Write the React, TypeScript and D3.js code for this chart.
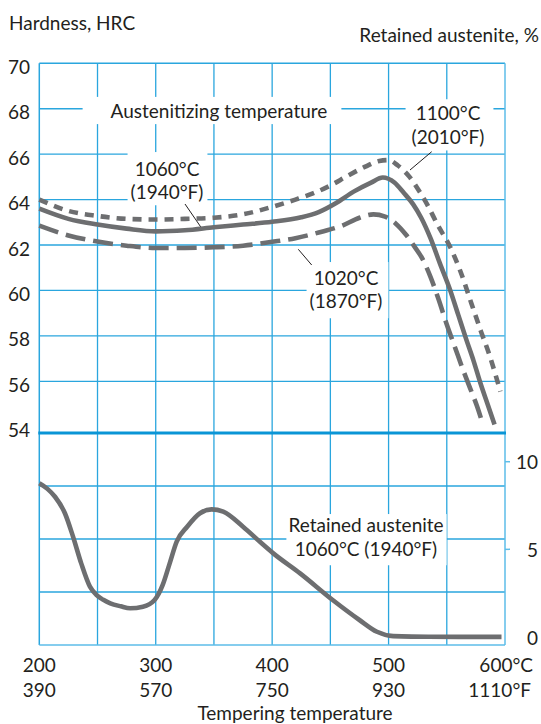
import { useEffect, useRef } from 'react';
import * as d3 from 'd3';

const W = 541;
const H = 724;

// tempering temperature axis
const tempTicks = [200, 300, 400, 500, 600];
const tempLabelsC = ['200', '300', '400', '500', '600°C'];
const tempLabelsF = ['390', '570', '750', '930', '1110°F'];
const tempGrid = [250, 300, 350, 400, 450, 500, 550];

const hardnessTicks = [54, 56, 58, 60, 62, 64, 66, 68, 70];
const hardnessGrid = [56, 58, 60, 62, 64, 66, 68];
const austeniteTicks = [0, 5, 10];
const austeniteTickMarks = [5, 10];
const lowerGridBands = [1, 2, 3];

// hardness curves (tempering °C, HRC)
const temps1100 = [200, 225, 250, 275, 300, 325, 350, 375, 400, 420, 435, 450, 465, 480, 492, 500, 508, 518, 526, 533, 542, 553, 562, 571, 579, 587, 596];
const hrc1100 = [64.0, 63.5, 63.28, 63.15, 63.12, 63.15, 63.2, 63.35, 63.68, 64.0, 64.27, 64.62, 65.05, 65.45, 65.7, 65.74, 65.5, 65.0, 64.4, 63.8, 62.9, 61.9, 60.8, 59.45, 58.25, 57.1, 55.55];

const temps1060 = [200, 225, 250, 275, 300, 325, 350, 375, 400, 425, 440, 455, 470, 485, 495, 505, 513, 521, 528, 536, 544, 553, 560, 567, 573, 579, 585, 591];
const hrc1060 = [63.6, 63.15, 62.9, 62.72, 62.6, 62.65, 62.78, 62.9, 63.02, 63.22, 63.45, 63.85, 64.35, 64.75, 64.97, 64.75, 64.3, 63.8, 63.2, 62.3, 61.2, 60.0, 58.9, 57.8, 56.9, 55.9, 55.0, 54.1];

const temps1020 = [200, 225, 250, 275, 300, 325, 350, 375, 400, 420, 440, 460, 475, 487, 497, 506, 515, 522, 529, 536, 543, 550, 557, 564, 570, 576, 581];
const hrc1020 = [62.85, 62.42, 62.15, 61.97, 61.87, 61.87, 61.9, 61.97, 62.14, 62.3, 62.55, 62.85, 63.2, 63.35, 63.25, 62.95, 62.45, 61.95, 61.4, 60.6, 59.6, 58.5, 57.5, 56.5, 55.7, 54.9, 54.1];

// retained austenite, 1060 °C
const tempsRA = [200, 207, 213.5, 222, 229, 236, 243.5, 249, 255, 261, 270, 278, 289, 299, 306, 312, 318, 327, 338, 348, 358, 375, 390, 401, 424, 452, 475, 490, 504, 520, 560, 597];
const pctRA = [8.77, 8.45, 8.0, 7.06, 5.72, 4.2, 2.87, 2.4, 2.12, 1.92, 1.75, 1.64, 1.73, 2.11, 2.97, 4.2, 5.44, 6.29, 7.06, 7.28, 7.15, 6.29, 5.4, 4.77, 3.63, 2.11, 0.97, 0.3, 0.05, 0.02, 0.01, 0.01];

const GRID = '#2aa6de';
const GRID_LIGHT = '#5dbde8';
const SEP = '#0a95d6';
const CURVE = '#6d6e70';
const INK = '#231f20';
const FONT = 'Lato, "Open Sans", sans-serif';
const FONT_SIZE = 19;

export default function App() {
  const svgRef = useRef<SVGSVGElement>(null);

  useEffect(() => {
    if (!svgRef.current) return;
    const svg = d3.select(svgRef.current);
    svg.selectAll('*').remove();

    const x = d3.scaleLinear().domain([200, 600]).range([39.3, 505]);
    const yH = d3.scaleLinear().domain([54, 70]).range([426.7, 63.3]);
    const yR = d3.scaleLinear().domain([0, 10]).range([637, 461.7]);
    const sepY = 433;
    const bottomY = 645;
    const yBand = d3.scaleLinear().domain([0, 4]).range([sepY, bottomY]);

    const g = svg.append('g');

    // grid
    g.selectAll('.vgrid')
      .data(tempGrid)
      .join('line')
      .attr('x1', (d) => x(d))
      .attr('x2', (d) => x(d))
      .attr('y1', yH(70))
      .attr('y2', bottomY)
      .attr('stroke', GRID)
      .attr('stroke-width', 1.3);

    g.selectAll('.hgrid')
      .data(hardnessGrid)
      .join('line')
      .attr('x1', x(200))
      .attr('x2', x(600))
      .attr('y1', (d) => yH(d))
      .attr('y2', (d) => yH(d))
      .attr('stroke', GRID)
      .attr('stroke-width', 1.3);

    g.selectAll('.lgrid')
      .data(lowerGridBands)
      .join('line')
      .attr('x1', x(200))
      .attr('x2', x(600))
      .attr('y1', (d) => yBand(d))
      .attr('y2', (d) => yBand(d))
      .attr('stroke', GRID)
      .attr('stroke-width', 1.3);

    // frame
    g.append('line').attr('x1', x(200)).attr('x2', x(600)).attr('y1', yH(70)).attr('y2', yH(70)).attr('stroke', GRID).attr('stroke-width', 1.5);
    g.append('line').attr('x1', x(200)).attr('x2', x(200)).attr('y1', yH(70)).attr('y2', bottomY).attr('stroke', GRID).attr('stroke-width', 1.5);
    g.append('line').attr('x1', x(600)).attr('x2', x(600)).attr('y1', yH(70)).attr('y2', bottomY).attr('stroke', GRID_LIGHT).attr('stroke-width', 1.5);
    g.append('line').attr('x1', x(200)).attr('x2', x(600)).attr('y1', bottomY).attr('y2', bottomY).attr('stroke', GRID_LIGHT).attr('stroke-width', 1.6);
    g.append('line').attr('x1', x(200) - 1).attr('x2', x(600) + 1).attr('y1', sepY).attr('y2', sepY).attr('stroke', SEP).attr('stroke-width', 3);

    // right axis ticks
    g.selectAll('.rtick')
      .data(austeniteTickMarks)
      .join('line')
      .attr('x1', x(600))
      .attr('x2', x(600) + 5)
      .attr('y1', (d) => yR(d))
      .attr('y2', (d) => yR(d))
      .attr('stroke', GRID_LIGHT)
      .attr('stroke-width', 1.5);

    const text = (sel: d3.Selection<SVGGElement, unknown, null, undefined>) =>
      sel.attr('font-family', FONT).attr('font-size', FONT_SIZE).attr('fill', INK);

    // labels with white boxes; pad = [top, right, bottom, left]
    const labels: { lines: string[]; cx: number; cy: number; pad: [number, number, number, number] }[] = [
      { lines: ['Austenitizing temperature'], cx: 219, cy: 110, pad: [5.6, 14, 6.6, 28] },
      { lines: ['1100°C', '(2010°F)'], cx: 448, cy: 124.5, pad: [6, 9, 6.7, 6] },
      { lines: ['1060°C', '(1940°F)'], cx: 167, cy: 180, pad: [8.7, 4, 6, 3] },
      { lines: ['1020°C', '(1870°F)'], cx: 346, cy: 289, pad: [7.7, 6, 10, 3] },
      { lines: ['Retained austenite', '1060°C (1940°F)'], cx: 366, cy: 536.5, pad: [3.2, 3, 9.5, 2] },
    ];
    const lineGap = 23.5;
    labels.forEach((l) => {
      const lg = g.append('g');
      const rect = lg.append('rect').attr('fill', '#fff');
      const t = lg.append('g').call(text);
      l.lines.forEach((s, i) => {
        t.append('text')
          .attr('x', l.cx)
          .attr('y', l.cy + (i - (l.lines.length - 1) / 2) * lineGap)
          .attr('text-anchor', 'middle')
          .attr('dominant-baseline', 'central')
          .text(s);
      });
      const bb = (t.node() as SVGGElement).getBBox();
      const [pt, pr, pb, pl] = l.pad;
      rect
        .attr('x', bb.x - pl)
        .attr('y', bb.y + 4 - pt)
        .attr('width', bb.width + pl + pr)
        .attr('height', bb.height - 8 + pt + pb);
    });

    // leader lines
    const leaders: [number, number, number, number][] = [
      [431.7, 151.7, 410, 170],
      [185, 204, 201.7, 228.3],
      [298.3, 249.3, 311.7, 265],
    ];
    g.selectAll('.leader')
      .data(leaders)
      .join('line')
      .attr('x1', (d) => d[0])
      .attr('y1', (d) => d[1])
      .attr('x2', (d) => d[2])
      .attr('y2', (d) => d[3])
      .attr('stroke', INK)
      .attr('stroke-width', 1);

    // curves
    const series = [
      { t: temps1100, v: hrc1100, dash: '9,7' },
      { t: temps1060, v: hrc1060, dash: null },
      { t: temps1020, v: hrc1020, dash: '20,8' },
    ];
    const lineH = d3
      .line<[number, number]>()
      .x((d) => x(d[0]))
      .y((d) => yH(d[1]))
      .curve(d3.curveMonotoneX);
    series.forEach((s) => {
      const pts = s.t.map((t, i) => [t, s.v[i]] as [number, number]);
      g.append('path')
        .attr('d', lineH(pts))
        .attr('fill', 'none')
        .attr('stroke', CURVE)
        .attr('stroke-width', 4.6)
        .attr('stroke-dasharray', s.dash);
    });

    const lineR = d3
      .line<[number, number]>()
      .x((d) => x(d[0]))
      .y((d) => yR(d[1]))
      .curve(d3.curveMonotoneX);
    g.append('path')
      .attr('d', lineR(tempsRA.map((t, i) => [t, pctRA[i]] as [number, number])))
      .attr('fill', 'none')
      .attr('stroke', CURVE)
      .attr('stroke-width', 4.6);

    // left axis labels
    const ax = g.append('g').call(text);
    ax.selectAll('.hl')
      .data(hardnessTicks)
      .join('text')
      .attr('x', 30)
      .attr('y', (d) => yH(d) + 3)
      .attr('text-anchor', 'end')
      .attr('dominant-baseline', 'central')
      .text((d) => d);

    // right axis labels
    ax.selectAll('.rl')
      .data(austeniteTicks)
      .join('text')
      .attr('x', 538)
      .attr('y', (d) => yR(d))
      .attr('text-anchor', 'end')
      .attr('dominant-baseline', 'central')
      .text((d) => d);

    // bottom axis labels
    tempTicks.forEach((t, i) => {
      const last = i === tempTicks.length - 1;
      ax.append('text')
        .attr('x', last ? 533 : x(t))
        .attr('y', 664)
        .attr('text-anchor', last ? 'end' : 'middle')
        .attr('dominant-baseline', 'central')
        .text(tempLabelsC[i]);
      ax.append('text')
        .attr('x', last ? 531 : x(t))
        .attr('y', 689)
        .attr('text-anchor', last ? 'end' : 'middle')
        .attr('dominant-baseline', 'central')
        .text(tempLabelsF[i]);
    });

    ax.append('text')
      .attr('x', 295)
      .attr('y', 712)
      .attr('text-anchor', 'middle')
      .attr('dominant-baseline', 'central')
      .text('Tempering temperature');

    ax.append('text')
      .attr('x', 9)
      .attr('y', 22)
      .attr('dominant-baseline', 'central')
      .text('Hardness, HRC');

    ax.append('text')
      .attr('x', 539)
      .attr('y', 34)
      .attr('text-anchor', 'end')
      .attr('dominant-baseline', 'central')
      .text('Retained austenite, %');
  }, []);

  return (
    <svg
      ref={svgRef}
      width={W}
      height={H}
      style={{ position: 'absolute', left: 0, top: 0, background: '#fff' }}
    />
  );
}
